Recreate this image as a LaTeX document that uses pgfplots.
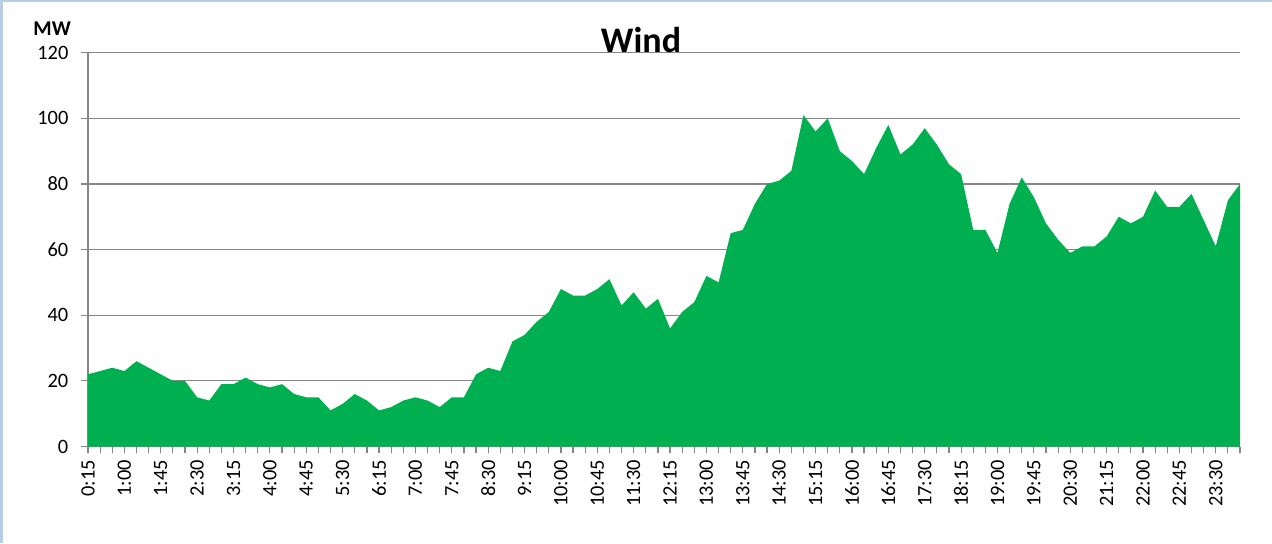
\documentclass[border=0pt]{standalone}
\usepackage{fontspec}
\setmainfont{Carlito}
\usepackage{pgfplots}
\pgfplotsset{compat=1.18}
\usepackage{pgfplotstable}
\definecolor{wind}{RGB}{0,176,80}
\definecolor{gridc}{RGB}{134,134,134}
\definecolor{framec}{RGB}{185,205,229}
\pgfplotstableread{
x y
0 22
1 23
2 24
3 23
4 26
5 24
6 22
7 20
8 20
9 15
10 14
11 19
12 19
13 21
14 19
15 18
16 19
17 16
18 15
19 15
20 11
21 13
22 16
23 14
24 11
25 12
26 14
27 15
28 14
29 12
30 15
31 15
32 22
33 24
34 23
35 32
36 34
37 38
38 41
39 48
40 46
41 46
42 48
43 51
44 43
45 47
46 42
47 45
48 36
49 41
50 44
51 52
52 50
53 65
54 66
55 74
56 80
57 81
58 84
59 101
60 96
61 100
62 90
63 87
64 83
65 91
66 98
67 89
68 92
69 97
70 92
71 86
72 83
73 66
74 66
75 59
76 74
77 82
78 76
79 68
80 63
81 59
82 61
83 61
84 64
85 70
86 68
87 70
88 78
89 73
90 73
91 77
92 69
93 61
94 75
95 80
}\winddata
\begin{document}
\begin{tikzpicture}
\useasboundingbox (0,0) rectangle (636pt,271.5pt);
\fill[white] (0,0) rectangle (636pt,271.5pt);
\fill[framec] (0,0) rectangle (1.5pt,271.5pt);
\fill[framec] (0,270.3pt) rectangle (636pt,271.5pt);
\begin{axis}[
  at={(44pt,48.25pt)}, anchor=south west,
  scale only axis, width=576pt, height=196.9pt,
  xmin=0, xmax=95, ymin=0, ymax=120,
  axis x line*=bottom, axis y line*=left,
  axis line style={gridc, line width=0.6pt, -},
  ytick={0,20,...,120},
  xtick={0,3,...,93},
  minor xtick={0,1,...,95},
  xticklabels={0:15,1:00,1:45,2:30,3:15,4:00,4:45,5:30,6:15,7:00,7:45,8:30,9:15,10:00,10:45,11:30,12:15,13:00,13:45,14:30,15:15,16:00,16:45,17:30,18:15,19:00,19:45,20:30,21:15,22:00,22:45,23:30},
  tick align=outside,
  major tick length=3.3pt, minor tick length=3.3pt,
  tick style={gridc, line width=0.6pt},
  ymajorgrids, grid style={gridc, line width=0.6pt},
  /pgf/number format/assume math mode=true,
  ticklabel style={font=\fontsize{10.2}{12}\selectfont},
  xticklabel style={rotate=90, anchor=east},
  yticklabel style={xshift=-3pt},
]
\addplot[fill=wind, draw=none] table[x=x,y=y] {\winddata} \closedcycle;
\end{axis}
\node[anchor=base west, inner sep=0pt, font=\fontsize{10.5}{12}\selectfont\bfseries] at (16.5pt,254pt) {MW};
\node[anchor=base, inner sep=0pt, font=\fontsize{18}{21}\selectfont\bfseries] at (320.5pt,245.3pt) {Wind};
\end{tikzpicture}
\end{document}
